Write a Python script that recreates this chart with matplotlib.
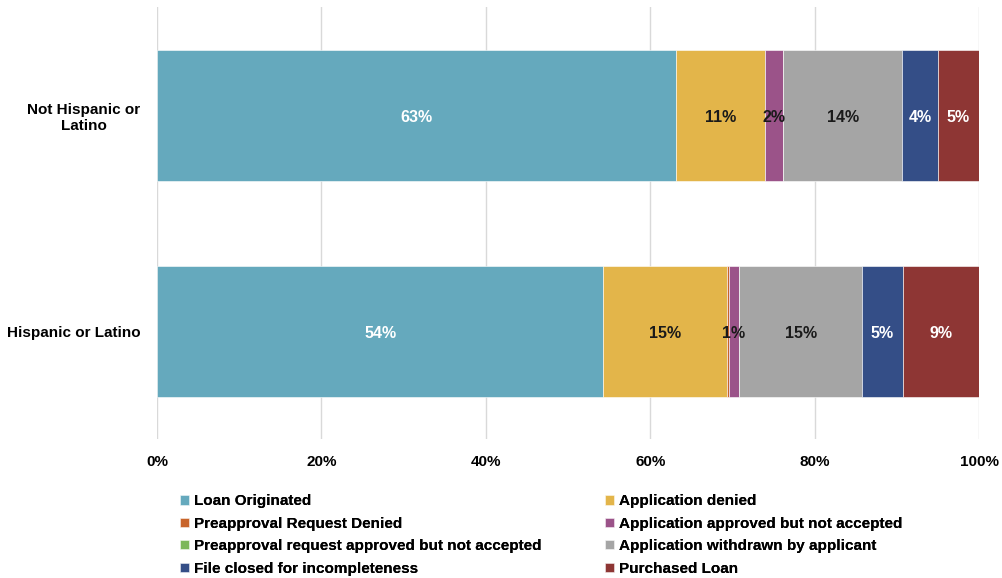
import matplotlib
matplotlib.use("Agg")
import matplotlib.pyplot as plt
import numpy as np

plt.rcParams["font.family"] = ["Liberation Sans", "DejaVu Sans"]

categories = ["Hispanic or Latino", "Not Hispanic or\nLatino"]
series_names = [
    "Loan Originated",
    "Application denied",
    "Preapproval Request Denied",
    "Application approved but not accepted",
    "Preapproval request approved but not accepted",
    "Application withdrawn by applicant",
    "File closed for incompleteness",
    "Purchased Loan",
]
loan_originated = [54.3, 63.1]
application_denied = [15.0, 10.9]
preapproval_denied = [0.25, 0.0]
approved_not_accepted = [1.2, 2.2]
preapproval_approved_not_accepted = [0.05, 0.0]
withdrawn = [15.0, 14.4]
file_closed = [4.9, 4.4]
purchased = [9.3, 5.0]

values = [loan_originated, application_denied, preapproval_denied, approved_not_accepted,
          preapproval_approved_not_accepted, withdrawn, file_closed, purchased]
colors = ["#65A9BD", "#E3B54A", "#C8642A", "#9B5389", "#7DB85A", "#A5A5A5", "#344E87", "#8E3634"]
label_colors = ["white", "#1a1a1a", None, "#1a1a1a", None, "#1a1a1a", "white", "white"]

fig = plt.figure(figsize=(10.02, 5.78), dpi=100)
ax = fig.add_axes([0.1567, 0.2405, 0.8204, 0.747])

y = np.arange(len(categories))
left = np.zeros(len(categories))
handles = []
for name, vals, col, lc in zip(series_names, values, colors, label_colors):
    vals = np.array(vals)
    b = ax.barh(y, vals, left=left, height=0.607, color=col, edgecolor="white", linewidth=0.4,
                label=name, zorder=3)
    handles.append(b)
    if lc is not None:
        for yi, (l, v) in enumerate(zip(left, vals)):
            if v > 0.5:
                ax.text(l + v / 2, yi - 0.01, f"{v:.0f}%", ha="center", va="center", color=lc,
                        fontsize=11.5, fontweight="bold", zorder=4)
    left = left + vals

ax.set_xlim(0, 100)
ax.set_ylim(-0.5, 1.5)
ax.set_xticks(np.arange(0, 101, 20))
ax.set_xticklabels([f"{t}%" for t in range(0, 101, 20)], fontsize=11, fontweight="bold")
ax.set_yticks(y)
ax.set_yticklabels(categories, fontsize=11, fontweight="bold", ha="right", multialignment="center")
ax.tick_params(axis="y", length=0, pad=12)
ax.tick_params(axis="x", length=0, pad=11.5)
ax.grid(axis="x", color="#D9D9D9", linewidth=1, zorder=0)
for s in ax.spines.values():
    s.set_visible(False)

leg_prop = {"weight": "bold", "size": 11}
col1 = [0, 2, 4, 6]
col2 = [1, 3, 5, 7]
for idx, xa in ((col1, 0.180), (col2, 0.604)):
    lg = fig.legend([handles[i] for i in idx], [series_names[i] for i in idx],
                    loc="upper left", bbox_to_anchor=(xa, 0.1445), ncol=1, frameon=False,
                    handlelength=0.55, handleheight=0.55, handletextpad=0.35,
                    labelspacing=0.55, borderpad=0, borderaxespad=0, prop=leg_prop)
    fig.add_artist(lg)

fig.savefig("out.png", dpi=100)
